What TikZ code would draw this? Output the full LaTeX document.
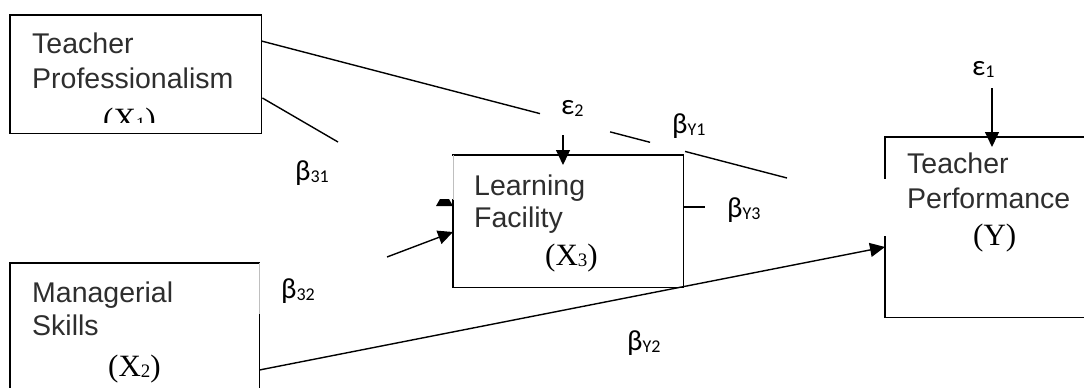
\documentclass[tikz,border=0pt]{standalone}
\usepackage{fontspec}
\setmainfont{Liberation Sans}
\newfontfamily\timesf{Liberation Serif}
\newfontfamily\calibf{Carlito}
\usetikzlibrary{arrows.meta,calc}
\newcommand{\glbl}[2]{{\calibf\fontsize{29}{29}\selectfont #1\raisebox{-2.5pt}{\fontsize{18}{18}\selectfont #2}}}
\newcommand{\vname}[2]{{\timesf\fontsize{31}{31}\selectfont (#1\raisebox{-1pt}{\fontsize{19}{19}\selectfont #2})}}
\tikzset{
  boxshape/.style={rectangle, draw=none, inner sep=0pt, anchor=north west},
  edge/.style={line width=1.4pt, line cap=rect},
  faint/.style={line width=1pt, black!25},
  arr/.style={line width=1.4pt, -{Triangle[length=15pt,width=14pt]}},
  txt/.style={anchor=base west, inner sep=0pt, text=black!82, font=\fontsize{28.5}{34}\selectfont},
  vtxt/.style={anchor=base west, inner sep=0pt, text=black},
  gtxt/.style={anchor=base west, inner sep=0pt, text=black},
}
\begin{document}
\begin{tikzpicture}[x=1pt,y=-1pt]
\useasboundingbox (0,0) rectangle (1084,388);
\clip (0,0) rectangle (1084,388);

% boxes (as named nodes)
\node[boxshape, minimum width=251pt, minimum height=118pt] (x1) at (10,15) {};
\node[boxshape, minimum width=230pt, minimum height=132pt] (x3) at (453,155) {};
\node[boxshape, minimum width=220pt, minimum height=180pt] (y) at (885,137) {};
\node[boxshape, minimum width=249pt, minimum height=140pt] (x2) at (10,263) {};

% X1 box
\draw[edge] (x1.north west) rectangle (x1.south east);
% X3 box
\draw[edge] ($(x3.north west)+(0,45)$) -- (x3.south west) -- (x3.south east) -- (x3.north east) -- (x3.north west);
\draw[faint] (x3.north west) -- ($(x3.north west)+(0,45)$);
% Y box
\draw[edge] ($(y.north west)+(0,41)$) -- (y.north west) -- (y.north east);
\draw[edge] ($(y.north west)+(0,100)$) -- (y.south west) -- (y.south east);
% X2 box
\draw[edge] (x2.south west) -- (x2.north west) -- (x2.north east);
\draw[faint] (x2.north east) -- ($(x2.north east)+(0,52)$);
\draw[edge] ($(x2.north east)+(0,52)$) -- (x2.south east);

% texts
\node[txt] (t1a) at (32,53) {Teacher};
\node[txt] (t1b) at (32,88) {Professionalism};
\begin{scope}
\clip (0,0) rectangle (1084,122);
\node[vtxt] (t1c) at (103,129) {\vname{X}{1}};
\end{scope}

\node[txt] (t3a) at (474,195) {Learning};
\node[txt] (t3b) at (474,227) {Facility};
\node[vtxt] (t3c) at (545,265) {\vname{X}{3}};

\node[txt] (tya) at (907,173) {Teacher};
\node[txt] (tyb) at (907,208) {Performance};
\node[vtxt] (tyc) at (973,245) {\vname{Y}{}};

\node[txt] (t2a) at (32,302) {Managerial};
\node[txt] (t2b) at (32,335) {Skills};
\node[vtxt] (t2c) at (108,376) {\vname{X}{2}};

% greek labels
\node[gtxt] (b31) at (295,180) {\glbl{β}{31}};
\node[gtxt] (b32) at (281,298) {\glbl{β}{32}};
\node[gtxt] (e2) at (561,114) {\glbl{ε}{2}};
\node[gtxt] (by1) at (672,133) {\glbl{β}{Y1}};
\node[gtxt] (by3) at (727,217) {\glbl{β}{Y3}};
\node[gtxt] (by2) at (627,350) {\glbl{β}{Y2}};
\node[gtxt] (e1) at (972,75) {\glbl{ε}{1}};

% connectors
\coordinate (p0) at ($(x1.north east)+(0,26)$);
\coordinate (p1) at (787,178);
\draw[edge, line cap=butt] (p0) -- ($(p0)!0.530!(p1)$);
\draw[edge, line cap=butt] ($(p0)!0.6635!(p1)$) -- ($(p0)!0.7395!(p1)$);
\draw[edge, line cap=butt] ($(p0)!0.806!(p1)$) -- (p1);

\coordinate (q0) at ($(x1.north east)+(1,83)$);
\coordinate (q1) at (338,142);
\draw[edge, line cap=butt] (q0) -- (q1);

\fill ($(x3.north west)+(-17,51)$) -- ($(x3.north west)+(-13,44)$) -- ($(x3.north west)+(-4,44)$) -- ($(x3.north west)+(0,51)$) -- cycle;

\coordinate (r0) at (387,257);
\draw[arr] (r0) -- ($(x3.north west)+(0,77)$);

\draw[arr] ($(x2.north east)+(0,107)$) -- ($(y.north west)+(0,110)$);

\draw[arr] ($(x3.north west)+(110,-20)$) -- ($(x3.north west)+(110,10)$);
\draw[arr] ($(y.north west)+(107,-49)$) -- ($(y.north west)+(107,10)$);

\draw[edge, line cap=butt] ($(x3.north east)+(0,52)$) -- ($(x3.north east)+(22,52)$);
\end{tikzpicture}
\end{document}
